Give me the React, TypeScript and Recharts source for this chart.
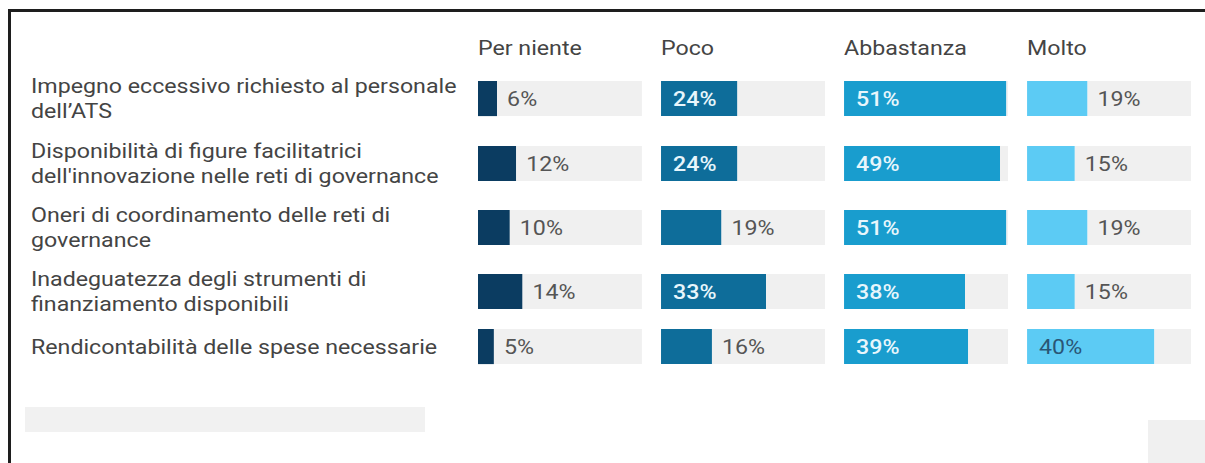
import React from "react";
import { BarChart, Bar, XAxis, YAxis, LabelList } from "recharts";

// survey answers, one array per answer level (percent)
const categories = [
  "Impegno eccessivo richiesto al personale\ndell’ATS",
  "Disponibilità di figure facilitatrici\ndell'innovazione nelle reti di governance",
  "Oneri di coordinamento delle reti di\ngovernance",
  "Inadeguatezza degli strumenti di\nfinanziamento disponibili",
  "Rendicontabilità delle spese necessarie",
];
const levels = ["Per niente", "Poco", "Abbastanza", "Molto"];
const perNiente = [6, 12, 10, 14, 5];
const poco = [24, 24, 19, 33, 16];
const abbastanza = [51, 49, 51, 38, 39];
const molto = [19, 15, 19, 15, 40];

const series = [perNiente, poco, abbastanza, molto];
const colors = ["#0b3c61", "#0e6d9a", "#199dce", "#5ccbf4"];
const insideText = ["#e8f6fc", "#e8f6fc", "#e8f6fc", "#2a5676"];
const insideWeight = [500, 500, 500, 400];

const COL = 51.5; // width of one small multiple, in percent units
const GAP = 6;
const TOTAL = 4 * COL + 3 * GAP;
const FONT = "Roboto, 'Noto Sans', sans-serif";
const FS = 20;
const SX = 1.16; // the source picture is stretched sideways
const LINE = 26;
const BAR = 39;
const rowPitch = [65, 64, 64, 55, 50];
const HEADER = 71;
const PAD = 6;

const rows = categories.map((label, i) => {
  const row: any = { label };
  series.forEach((s, c) => {
    row["v" + c] = s[i];
    row["r" + c] = COL - s[i];
    if (c < 3) row["g" + c] = GAP;
  });
  return row;
});

// text stretched horizontally from its start point
const WideText = ({ x, y, children, ...rest }: any) => (
  <text
    transform={`translate(${x},${y}) scale(${SX},1)`}
    x={0}
    y={0}
    fontSize={FS}
    fontFamily={FONT}
    {...rest}
  >
    {children}
  </text>
);

const CategoryTick = (props: any) => {
  const lines = String(props.payload.value).split("\n");
  const first = props.y - ((lines.length - 1) * LINE) / 2 + 7;
  return (
    <WideText x={23} y={first} fill="#444">
      {lines.map((l, k) => (
        <tspan key={k} x={0} dy={k === 0 ? 0 : LINE}>
          {l}
        </tspan>
      ))}
    </WideText>
  );
};

const HeaderTick = (props: any) => (
  <WideText x={props.x} y={47} fill="#444">
    {levels[props.index]}
  </WideText>
);

const valueLabel = (c: number) => (props: any) => {
  const { x, y, width, height, value } = props;
  const inside = value >= 20;
  return (
    <WideText
      x={inside ? x + 12 : x + width + 10}
      y={y + height / 2 + 7}
      fill={inside ? insideText[c] : "#555"}
      fontWeight={inside ? insideWeight[c] : 400}
    >
      {value}%
    </WideText>
  );
};

const Row = ({ index }: { index: number }) => {
  const first = index === 0;
  const bottom = rowPitch[index] - BAR - PAD;
  const top = first ? 0 : PAD;
  return (
    <BarChart
      width={1183}
      height={(first ? HEADER : top) + BAR + bottom}
      data={[rows[index]]}
      layout="vertical"
      barCategoryGap={0}
      barSize={BAR}
      margin={{ top, right: 0, bottom, left: 0 }}
      style={{ display: "block" }}
    >
      <XAxis
        type="number"
        domain={[0, TOTAL]}
        ticks={[0, COL + GAP, 2 * (COL + GAP), 3 * (COL + GAP)]}
        interval={0}
        orientation="top"
        hide={!first}
        height={HEADER}
        axisLine={false}
        tickLine={false}
        tick={<HeaderTick />}
      />
      <YAxis
        type="category"
        dataKey="label"
        width={470}
        axisLine={false}
        tickLine={false}
        tick={<CategoryTick />}
      />
      {[0, 1, 2, 3].map((c) => [
        <Bar key={"v" + c} dataKey={"v" + c} stackId="a" fill={colors[c]} isAnimationActive={false}>
          <LabelList dataKey={"v" + c} content={valueLabel(c)} />
        </Bar>,
        <Bar key={"r" + c} dataKey={"r" + c} stackId="a" fill="#f0f0f0" isAnimationActive={false} />,
        c < 3 ? (
          <Bar key={"g" + c} dataKey={"g" + c} stackId="a" fill="transparent" isAnimationActive={false} />
        ) : null,
      ])}
    </BarChart>
  );
};

export default function App() {
  return (
    <div
      style={{
        position: "absolute",
        left: 0,
        top: 0,
        width: 1205,
        height: 463,
        overflow: "hidden",
        background: "#fff",
        fontFamily: FONT,
      }}
    >
      <div
        style={{
          position: "absolute",
          top: 9,
          left: 8,
          width: 1197,
          height: 454,
          boxSizing: "border-box",
          borderTop: "3px solid #1e1e1e",
          borderLeft: "3px solid #1e1e1e",
        }}
      />
      <div style={{ position: "absolute", left: 25, top: 407, width: 400, height: 25, background: "#f1f1f1" }} />
      <div style={{ position: "absolute", left: 1148, top: 420, width: 57, height: 43, background: "#f0f0f0" }} />
      <div style={{ position: "absolute", left: 8, top: 8 }}>
        {rows.map((_, i) => (
          <Row key={i} index={i} />
        ))}
      </div>
    </div>
  );
}
